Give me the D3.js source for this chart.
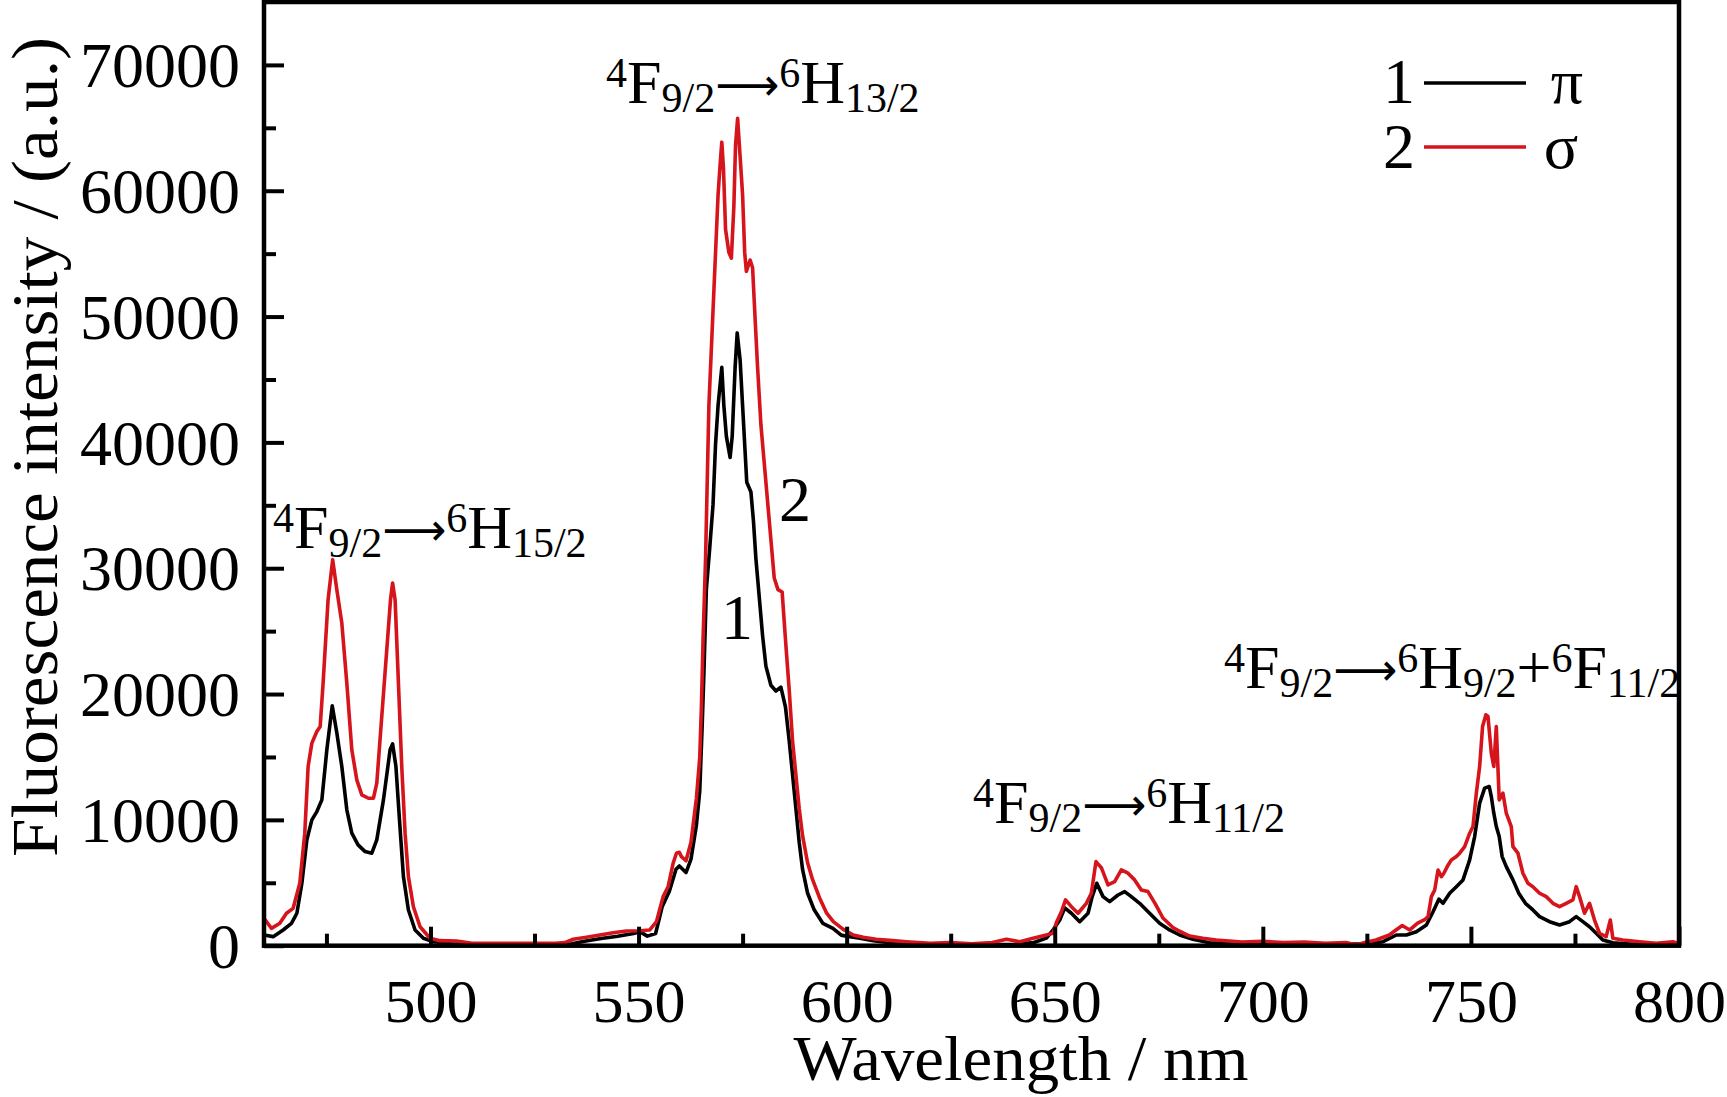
<!DOCTYPE html>
<html>
<head>
<meta charset="utf-8">
<script src="https://cdn.jsdelivr.net/npm/d3@7"></script>
<style>
  html, body { margin: 0; padding: 0; background: #fff; }
  svg { display: block; }
  text { font-family: "Liberation Serif", "Times New Roman", serif; fill: #000; }
</style>
</head>
<body>
<svg id="chart" width="1727" height="1097"></svg>
<script>
// ---------------- data ----------------
const seriesNames = ["π", "σ"];
const seriesNumbers = ["1", "2"];
const seriesColors = ["#000000", "#d6141c"];

const piWavelength = [460,462.2,464.6,466.6,467.9,469.1,470.3,471.5,472.7,473.9,475.1,476.4,477.5,478.7,479.9,481.1,482.6,484.3,485.9,487.1,488.7,490.3,490.9,491.7,492.5,493.5,494.7,496.3,498.3,500.7,505,510,520,530,534,537,541,545,548.8,550.4,552.1,554.1,555.7,557.4,559,559.8,561.4,562.6,563.9,564.7,565.3,565.7,566.3,567.1,567.9,568.5,569.1,570,570.5,571.1,572,572.5,573.2,573.7,574.4,575,575.5,576,577,577.6,578.2,579,579.8,580.6,581.8,583,584.2,585.3,586.2,587,587.8,588.6,589.4,590.6,592.2,594.3,596.7,598.7,600,603.2,606.4,610,620,630,640,645,648,649.6,651.2,652.4,654,656,658,659,660.1,661.6,663.2,665.2,666.8,668.4,670.4,672.8,675.2,677.6,680,683.2,687.2,695,710,725,728.9,732.1,734.5,736.9,739.3,740.9,742.3,743.3,744.9,746.5,748.1,749.7,750.9,752.1,753.3,754.4,754.9,755.5,756.1,756.8,757.5,758.5,760.1,761.5,763.1,764.9,766.5,768.9,771.3,773.7,775.3,776.9,778.5,780.1,781.7,784.1,790,800];
const piIntensity = [850,720,1250,1780,2580,4960,8410,10000,10660,11590,15570,19070,16900,14240,10800,8940,8010,7480,7350,8410,11590,15570,16040,14240,10260,5490,2840,1250,590,320,150,100,100,100,150,350,570,750,970,1100,760,970,3120,4330,6080,6340,5810,6880,9570,12260,17630,21660,28380,31600,35090,39870,42910,45960,42910,40480,38800,40480,45960,48700,46560,42910,39870,36830,36060,33780,30740,27700,24650,22220,20700,20240,20550,18970,16280,13600,10910,8220,6080,4190,2850,1770,1380,840,750,590,400,250,150,100,100,250,600,1250,2040,3000,2580,1910,2580,3900,4960,3900,3500,4030,4300,3900,3370,2580,1780,1250,850,510,240,100,100,150,320,850,850,1110,1650,2700,3700,3370,4170,4690,5230,6820,8670,11330,12520,12650,11850,10530,9470,8670,7080,6280,5230,4170,3370,2840,2310,1910,1650,1910,2310,1910,1510,990,450,240,100,100];

const sigmaWavelength = [460,461.8,463.8,465.4,467,468.6,469.8,470.6,471.5,472.7,473.5,474.2,475.4,476.5,477.5,478.7,479.9,481.1,482.3,483.5,485.1,486.3,487.1,488.3,489.5,490.4,490.9,491.5,492.3,493.1,493.9,494.7,495.9,497.5,499.9,502.3,506.3,510,520,530,532.3,534.3,537.5,540.7,543.9,547.1,550.3,552.7,554.3,555.9,557.1,558.3,559.1,559.8,560.3,561.4,562.6,563.9,564.7,565.1,565.5,566.1,566.9,567.7,568.5,569.1,569.6,570,570.4,570.9,571.7,572.3,572.9,573.3,573.8,574.4,575,575.5,575.9,576.8,577.4,577.9,578.6,579.4,580.2,581,581.8,582.6,583.5,584.5,585.3,586.2,587,587.8,588.6,589.4,590.6,591.8,593.5,595.2,596.8,599.2,601.6,604,607.1,611.1,614.4,620,625,630,635,638.4,641.6,644.8,648,649.6,650.4,651.6,652.6,654,655.6,657.6,658.8,659.9,661.2,662.8,664.4,666,667.6,669.2,670.8,672.4,674.2,676,678.4,680,682.4,685.6,688.8,695,700,705,710,715,720,722.4,725,727.2,730.4,732,733.5,735.3,737.2,739,739.7,740.5,741.3,742.1,742.9,743.5,744.5,745.3,746.5,747.3,748.5,749.7,750.5,751.3,752.1,752.8,753.6,754.1,754.9,755.5,756.1,756.8,757.7,758.5,759.7,760.1,761.3,762.5,763.7,764.9,766.5,768.1,769.7,771.3,772.9,774.5,775.3,776.1,777.3,778.5,779.7,780.9,782.5,783.5,784.1,786.5,790.5,794.5,798.5,800];
const sigmaIntensity = [2180,1380,1780,2580,2970,4960,8940,14240,16100,17020,17420,20870,27500,30680,28290,25640,20870,15570,13180,11990,11720,11720,12920,18220,23520,27500,28830,27500,20870,14240,8940,5490,3100,1510,590,400,370,200,200,200,250,510,670,850,1030,1170,1190,1250,1910,3900,4690,6550,7350,7420,7080,6750,8220,11720,14950,18970,24350,30760,42930,49000,55100,59650,62100,63860,61790,56930,55100,54640,58760,63610,65760,62730,59650,55100,53590,54490,53880,50520,45950,41400,38350,35310,32270,29220,28300,28110,24350,20310,16280,13600,10910,8770,6610,5270,3800,2580,1910,1300,850,670,510,400,320,200,250,150,250,510,320,590,850,990,1850,2700,3640,3100,2580,3370,4170,6680,6200,4830,5090,6020,5760,5230,4430,4300,3300,2200,1450,1150,770,590,450,300,350,250,300,200,250,50,300,450,850,1250,1600,1250,1800,2100,2310,3900,4430,6020,5490,5760,6400,6820,7080,7350,7870,8940,9470,12120,14240,17420,18350,18220,15300,14240,17420,11590,12120,10530,9470,7870,7350,5760,4960,4690,4170,3900,3370,3100,3370,3640,4690,3900,2580,3370,2040,990,720,2040,590,450,320,190,320,190];

const xDomain = [460, 800];
const yDomain = [0, 75000];
const xMajorTicks = [500, 550, 600, 650, 700, 750, 800];
const xMinorTicks = [475, 525, 575, 625, 675, 725, 775];
const yMajorTicks = [0, 10000, 20000, 30000, 40000, 50000, 60000, 70000];
const yMinorTicks = [5000, 15000, 25000, 35000, 45000, 55000, 65000];
const xTitle = "Wavelength / nm";
const yTitle = "Fluorescence intensity / (a.u.)";

const annotations = [
  { parts: [["sup","4"],["base","F"],["sub","9/2"],["arrow","⟶"],["sup","6"],["base","H"],["sub","15/2"]], x: 273, y: 548 },
  { parts: [["sup","4"],["base","F"],["sub","9/2"],["arrow","⟶"],["sup","6"],["base","H"],["sub","13/2"]], x: 606, y: 103 },
  { parts: [["sup","4"],["base","F"],["sub","9/2"],["arrow","⟶"],["sup","6"],["base","H"],["sub","11/2"]], x: 973, y: 823 },
  { parts: [["sup","4"],["base","F"],["sub","9/2"],["arrow","⟶"],["sup","6"],["base","H"],["sub","9/2"],["base","+"],["sup","6"],["base","F"],["sub","11/2"]], x: 1224, y: 688 }
];
const curveLabels = [ { t: "1", x: 737, y: 639 }, { t: "2", x: 795, y: 521 } ];

// ---------------- layout ----------------
const svg = d3.select("#chart");
const pL = 264, pR = 1679, pT = 2, pB = 945.7;
const x = d3.scaleLinear().domain(xDomain).range([pL, pR]);
const y = d3.scaleLinear().domain(yDomain).range([pB, pT]);

const lineGen = d3.line().x(d => x(d[0])).y(d => y(d[1]));
svg.append("clipPath").attr("id", "clip")
  .append("rect").attr("x", pL).attr("y", pT).attr("width", pR - pL).attr("height", pB - pT);

const piData = piWavelength.map((w, i) => [w, piIntensity[i]]);
const sigmaData = sigmaWavelength.map((w, i) => [w, sigmaIntensity[i]]);

const plot = svg.append("g").attr("clip-path", "url(#clip)");
plot.append("path").datum(piData).attr("d", lineGen)
  .attr("fill", "none").attr("stroke", seriesColors[0]).attr("stroke-width", 3.6).attr("stroke-linejoin", "round");
plot.append("path").datum(sigmaData).attr("d", lineGen)
  .attr("fill", "none").attr("stroke", seriesColors[1]).attr("stroke-width", 3.6).attr("stroke-linejoin", "round");

// axes
const xAxis = svg.append("g").attr("transform", `translate(0,${pB})`)
  .call(d3.axisBottom(x).tickValues(xMajorTicks).tickSize(-19).tickPadding(0).tickFormat(d3.format("d")));
xAxis.selectAll("text").attr("font-size", 62).attr("dy", null).attr("y", 76);
svg.append("g").attr("transform", `translate(0,${pB})`)
  .call(d3.axisBottom(x).tickValues(xMinorTicks).tickSize(-12).tickFormat(""));

const yAxis = svg.append("g").attr("transform", `translate(${pL},0)`)
  .call(d3.axisLeft(y).tickValues(yMajorTicks).tickSize(-20).tickPadding(24).tickFormat(d3.format("d")));
yAxis.selectAll("text").attr("font-size", 64).attr("dy", "0.34em");
svg.append("g").attr("transform", `translate(${pL},0)`)
  .call(d3.axisLeft(y).tickValues(yMinorTicks).tickSize(-12).tickFormat(""));

svg.selectAll(".domain").remove();
svg.selectAll(".tick line").attr("stroke", "#000").attr("stroke-width", 4);
svg.selectAll(".tick text").attr("fill", "#000");

// frame
svg.append("rect").attr("x", pL).attr("y", pT).attr("width", pR - pL).attr("height", pB - pT)
  .attr("fill", "none").attr("stroke", "#000").attr("stroke-width", 4.5);

// titles
svg.append("text").attr("x", 1021).attr("y", 1080).attr("text-anchor", "middle")
  .attr("font-size", 64).attr("textLength", 455).attr("lengthAdjust", "spacingAndGlyphs").text(xTitle);
svg.append("text").attr("transform", "translate(57,447) rotate(-90)").attr("text-anchor", "middle")
  .attr("font-size", 65).attr("textLength", 820).attr("lengthAdjust", "spacingAndGlyphs").text(yTitle);

// annotations
const baseSize = 62, smallSize = 42, supShift = -16, subShift = 9, arrowShift = -3, arrowWidth = 64;
annotations.forEach(a => {
  const t = svg.append("text").attr("x", a.x).attr("y", a.y).attr("font-size", baseSize);
  let cur = 0;
  a.parts.forEach(([role, s]) => {
    let target = 0, size = baseSize;
    if (role === "sup") { target = supShift; size = smallSize; }
    else if (role === "sub") { target = subShift; size = smallSize; }
    else if (role === "arrow") { target = arrowShift; size = 40; }
    const ts = t.append("tspan").attr("dy", target - cur).attr("font-size", size).text(s);
    if (role === "arrow") {
      ts.style("font-family", "'DejaVu Sans', sans-serif");
      const w = ts.node().getComputedTextLength();
      if (w > 0) ts.attr("font-size", size * arrowWidth / w);
    }
    cur = target;
  });
});

curveLabels.forEach(c => {
  svg.append("text").attr("x", c.x).attr("y", c.y).attr("text-anchor", "middle").attr("font-size", 64).text(c.t);
});

// legend
const legend = svg.append("g");
[0, 1].forEach(i => {
  const ly = [83, 147][i], by = [103, 168][i];
  legend.append("text").attr("x", 1399).attr("y", by).attr("text-anchor", "middle").attr("font-size", 64).text(seriesNumbers[i]);
  legend.append("line").attr("x1", 1424).attr("x2", 1526).attr("y1", ly).attr("y2", ly)
    .attr("stroke", seriesColors[i]).attr("stroke-width", 3.6);
  legend.append("text").attr("x", [1567, 1561][i]).attr("y", by).attr("text-anchor", "middle").attr("font-size", 64).text(seriesNames[i]);
});
</script>
</body>
</html>
